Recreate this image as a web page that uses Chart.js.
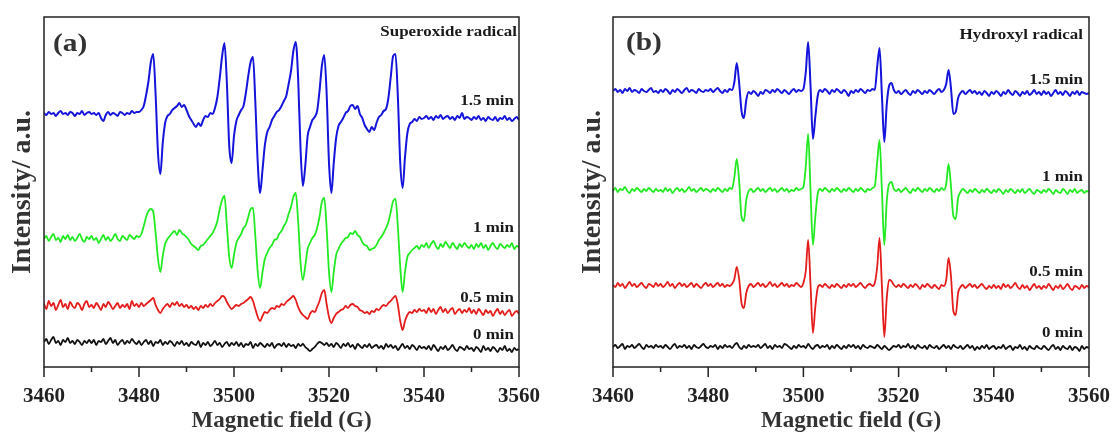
<!DOCTYPE html>
<html>
<head>
<meta charset="utf-8">
<script src="https://cdn.jsdelivr.net/npm/chart.js@4.4.1/dist/chart.umd.min.js"></script>
<style>
body { margin: 0; background: #fff; }
#wrap { position: relative; width: 1115px; height: 435px; background: #fff; }
canvas { position: absolute; top: 0; }
</style>
</head>
<body>
<div id="wrap">
<canvas id="chartA" width="557" height="435" style="left:0"></canvas>
<canvas id="chartB" width="558" height="435" style="left:557px"></canvas>
</div>
<script>
// field sweep (G): one reading every 0.5 G from 3460 to 3560
const fieldStart = 3460;
const fieldStep = 0.5;
const fieldTicks = [3460, 3480, 3500, 3520, 3540, 3560];
const times = ['0 min', '0.5 min', '1 min', '1.5 min'];

// (a) superoxide radical, arbitrary units (stacked offsets kept as read)
const aBlue = [
  254,252,255,253,254,251,254,256,253,254,252,255,254,251,254,253,256,252,254,255,
  253,254,252,254,249,246,252,255,252,254,253,251,255,254,252,254,253,256,254,255,
  255,257,261,272,286,305,313,272,214,193,224,244,251,253,257,259,261,264,260,262,
  257,251,247,243,240,244,241,247,251,250,254,253,259,270,289,311,324,284,221,204,
  231,246,252,257,261,274,291,305,310,264,204,174,197,222,235,240,247,251,255,257,
  261,266,271,283,296,316,325,289,219,181,201,231,240,247,250,256,276,301,312,274,
  204,174,204,229,241,245,249,254,256,261,262,258,261,253,249,242,238,235,240,237,
  244,250,252,256,258,269,290,311,313,270,204,179,210,234,243,245,248,246,250,248,
  249,251,248,250,247,251,249,252,248,250,251,248,250,247,251,249,254,248,250,249,
  247,250,248,251,247,249,246,250,248,247,250,246,249,248,251,247,249,246,248,250,
  247
];
const aGreen = [
  128,131,126,130,133,127,129,125,131,128,132,127,130,126,129,133,128,125,130,128,
  131,127,129,124,128,132,127,130,126,129,133,128,126,131,129,127,132,130,128,131,
  130,133,141,150,156,158,155,134,108,95,111,123,128,131,134,136,132,137,134,132,
  130,127,123,121,119,117,121,122,125,128,131,134,139,146,158,167,171,141,110,99,
  112,124,129,133,139,142,150,158,159,130,95,79,95,108,114,119,122,127,128,133,
  136,141,145,153,160,170,174,146,105,87,101,118,124,129,132,139,150,165,169,139,
  95,75,95,112,118,123,126,129,130,134,133,136,132,130,125,122,121,117,118,119,
  122,127,130,134,139,145,155,166,168,140,100,75,95,110,114,117,119,121,118,122,
  120,124,119,123,126,121,118,123,120,125,122,119,124,121,118,123,120,124,121,119,
  122,118,123,120,124,119,122,117,121,124,120,118,123,121,119,122,120,124,118,121,
  120
];
const aRed = [
  63,58,66,61,64,57,62,67,60,63,58,65,61,59,64,62,57,63,66,60,
  62,59,64,61,57,63,60,65,62,58,61,64,59,62,60,63,58,66,61,63,
  60,64,61,63,65,67,69,62,57,54,58,61,63,60,64,62,65,61,63,60,
  62,59,61,58,60,57,61,59,62,60,63,61,64,66,68,71,70,65,61,58,
  60,62,61,63,64,66,68,70,66,58,50,46,51,55,54,57,59,58,61,60,
  63,62,65,67,69,71,67,60,55,52,50,48,53,56,55,60,66,74,77,63,
  50,44,49,53,55,57,58,61,59,62,63,61,60,57,56,54,55,53,56,55,
  58,57,60,62,61,64,66,69,71,62,46,37,46,52,55,54,57,55,58,56,
  57,54,59,55,58,53,57,60,55,58,54,57,59,53,56,58,54,57,55,59,
  54,57,53,58,55,52,57,54,56,51,55,58,53,56,52,55,57,51,54,56,
  53
];
const aBlack = [
  25,28,23,27,30,24,26,22,27,25,29,24,26,23,27,25,22,26,24,27,
  24,27,22,26,25,28,23,26,29,24,27,22,25,27,23,26,24,28,25,23,
  26,22,25,27,23,26,21,25,24,27,22,25,23,26,24,21,25,23,26,22,
  24,21,25,23,22,26,20,24,22,25,21,23,26,22,24,20,23,25,21,24,
  22,25,21,24,20,23,22,25,19,23,21,24,22,20,23,21,24,19,22,23,
  21,24,20,23,21,22,19,23,21,23,20,18,16,18,20,23,25,24,22,24,
  21,23,20,24,22,19,23,21,24,20,22,18,23,21,19,22,20,23,19,21,
  22,19,21,18,23,20,22,19,21,17,20,23,19,21,18,22,20,17,21,19,
  20,18,21,17,22,19,16,20,18,21,17,19,22,18,16,20,19,17,21,18,
  19,16,20,18,15,21,17,19,16,20,18,15,19,17,21,16,18,15,19,17,
  18
];

// (b) hydroxyl radical
const bBlue = [
  276,278,275,277,274,278,276,279,275,277,276,274,278,276,275,277,279,275,276,274,
  277,275,278,276,273,277,275,278,276,274,277,279,275,277,276,274,278,276,275,277,
  276,278,275,277,279,276,274,277,275,278,277,285,304,284,256,249,267,275,273,276,
  274,271,275,273,277,276,274,277,275,278,276,274,277,275,273,276,278,275,277,276,
  278,295,325,281,228,250,271,277,275,278,276,273,277,275,278,276,274,277,275,271,
  276,274,277,275,278,276,274,277,276,278,277,300,319,271,225,262,281,284,277,274,
  276,273,275,277,274,272,276,274,277,275,273,276,274,277,275,273,276,278,275,277,
  283,297,279,253,255,269,274,276,273,275,277,274,276,273,275,272,276,274,271,275,
  273,276,274,271,275,273,277,274,272,276,274,271,275,273,276,272,274,277,273,275,
  272,276,273,275,271,274,277,273,275,272,276,274,271,275,273,276,272,275,274,273,
  274
];
const bGreen = [
  176,179,175,178,177,180,176,174,178,176,179,177,175,178,176,179,177,175,178,176,
  177,175,179,176,178,174,177,179,176,178,175,177,180,176,178,175,177,179,176,178,
  177,175,178,176,179,177,175,178,176,179,178,190,208,186,150,146,167,176,178,175,
  177,179,176,178,175,177,179,176,178,175,177,179,176,178,175,177,176,179,177,178,
  180,201,233,176,122,150,173,178,176,179,177,175,178,176,179,177,175,178,176,179,
  177,175,178,176,179,177,175,178,177,179,181,205,227,176,122,165,183,185,178,176,
  178,175,177,179,176,174,178,176,179,177,175,178,176,179,177,175,178,176,179,177,
  183,203,181,151,148,169,175,178,176,174,177,175,178,176,174,177,175,178,176,174,
  177,175,178,176,173,177,175,178,176,174,177,175,178,174,176,178,175,173,177,176,
  174,177,175,178,176,173,177,175,174,178,176,173,177,175,178,174,176,177,174,176,
  175
];
const bRed = [
  82,80,84,81,83,79,82,85,81,83,80,82,84,81,79,83,82,80,84,81,
  83,80,82,85,81,83,79,82,84,81,83,80,82,84,80,83,81,79,82,84,
  81,83,80,82,84,81,83,80,82,81,83,88,100,88,64,59,74,81,83,80,
  82,84,81,83,80,82,85,81,83,80,82,84,81,83,80,82,81,84,82,80,
  84,96,127,82,34,60,79,82,80,83,81,79,82,80,83,81,79,82,80,83,
  81,83,80,82,84,81,79,82,83,81,84,100,129,80,30,68,87,86,82,80,
  82,80,83,81,79,82,80,83,81,78,82,80,83,81,79,82,80,78,82,81,
  87,109,91,56,52,74,80,82,79,81,83,80,82,79,81,83,80,78,81,79,
  82,79,81,78,83,80,82,79,81,84,80,78,82,79,81,77,80,83,79,81,
  78,81,79,83,80,77,81,79,82,78,80,83,79,77,81,80,78,82,79,81,
  80
];
const bBlack = [
  20,22,19,21,23,18,21,20,22,19,21,23,20,18,22,20,21,19,22,20,
  21,19,22,20,18,21,23,19,21,20,22,19,21,18,22,20,19,21,23,20,
  19,21,20,22,18,21,19,22,20,21,19,22,24,20,18,21,19,22,20,21,
  20,22,19,21,23,19,21,18,22,20,21,19,23,22,20,18,21,19,22,20,
  21,19,23,20,18,21,22,19,21,20,22,18,21,19,22,20,18,21,19,22,
  20,22,19,21,18,22,20,19,21,20,19,22,20,18,21,19,17,19,21,20,
  22,19,21,20,23,19,21,18,22,20,19,21,18,22,20,19,21,18,20,22,
  19,21,18,22,20,19,21,18,20,22,19,21,17,20,18,21,19,22,18,20,
  21,18,20,19,22,18,20,21,17,20,19,22,18,20,17,21,19,18,21,19,
  18,21,19,17,20,22,18,20,17,21,19,18,21,17,20,19,16,21,18,20,
  19
];

const colors = ['#111111', '#e51c1c', '#22ea22', '#1414dc'];
const serif = '"Liberation Serif", "Times New Roman", serif';

Chart.defaults.font.family = serif;

function toPoints(values) {
  return values.map((v, i) => ({ x: fieldStart + i * fieldStep, y: v }));
}

// box round the plot + outward tick marks on the field axis
const frame = {
  id: 'frame',
  afterDatasetsDraw(chart) {
    const { ctx, chartArea: a, scales: { x } } = chart;
    ctx.save();
    ctx.strokeStyle = '#222';
    ctx.lineWidth = 1.5;
    ctx.strokeRect(a.left, a.top, a.right - a.left, a.bottom - a.top);
    x.ticks.forEach(t => {
      const px = x.getPixelForValue(t.value);
      const len = fieldTicks.includes(t.value) ? 10 : 5;
      ctx.beginPath();
      ctx.moveTo(px, a.bottom);
      ctx.lineTo(px, a.bottom + len);
      ctx.stroke();
    });
    ctx.restore();
  }
};

// panel letter, radical name and time labels
const panelText = {
  id: 'panelText',
  afterDraw(chart, args, opts) {
    const ctx = chart.ctx;
    opts.items.forEach(it => {
      ctx.save();
      ctx.font = 'bold ' + it.size + 'px ' + serif;
      ctx.fillStyle = it.color || '#1a1a1a';
      ctx.textAlign = it.align;
      ctx.textBaseline = 'middle';
      ctx.translate(it.x, it.y);
      ctx.scale(1.13, 1);
      ctx.fillText(it.text, 0, 0);
      ctx.restore();
    });
  }
};

function panel(id, series, leftW, rightPad, yTitlePad, items) {
  new Chart(document.getElementById(id), {
    type: 'line',
    data: {
      datasets: series.map((s, i) => ({
        label: times[i],
        data: toPoints(s),
        borderColor: colors[i],
        borderWidth: i === 3 ? 2 : 1.8,
        pointRadius: 0,
        cubicInterpolationMode: 'monotone',
        fill: false
      }))
    },
    options: {
      responsive: false,
      animation: false,
      devicePixelRatio: 1,
      layout: { padding: { top: 17, right: rightPad, left: 0, bottom: 0 } },
      plugins: {
        legend: { display: false },
        tooltip: { enabled: false },
        panelText: { items: items }
      },
      scales: {
        x: {
          type: 'linear',
          min: 3460,
          max: 3560,
          afterFit: s => { s.height = 68; },
          grid: { display: false, drawTicks: true, tickLength: 17 },
          border: { display: false },
          ticks: {
            stepSize: 10,
            autoSkip: false,
            maxRotation: 0,
            padding: 0,
            color: '#222',
            font: { size: 21, weight: 'bold' },
            callback: v => fieldTicks.includes(v) ? String(v) : ''
          },
          title: {
            display: true,
            text: 'Magnetic field (G)',
            color: '#333',
            font: { size: 23, weight: 'bold' },
            padding: { top: 0, bottom: 0 }
          }
        },
        y: {
          min: 0,
          max: 350,
          afterFit: s => { s.width = leftW; },
          grid: { display: false, drawTicks: false },
          border: { display: false },
          ticks: { display: false },
          title: {
            display: true,
            text: 'Intensity/ a.u.',
            color: '#333',
            font: { size: 28, weight: 'bold' },
            padding: { top: yTitlePad, bottom: yTitlePad }
          }
        }
      }
    },
    plugins: [frame, panelText]
  });
}

panel('chartA', [aBlack, aRed, aGreen, aBlue], 44, 38, 6, [
  { text: '(a)', x: 53, y: 44, size: 26, align: 'left', color: '#333' },
  { text: 'Superoxide radical', x: 517, y: 32, size: 15, align: 'right' },
  { text: '1.5 min', x: 514, y: 101, size: 15, align: 'right' },
  { text: '1 min', x: 514, y: 228, size: 15, align: 'right' },
  { text: '0.5 min', x: 514, y: 298, size: 15, align: 'right' },
  { text: '0 min', x: 514, y: 335, size: 15, align: 'right' }
]);

panel('chartB', [bBlack, bRed, bGreen, bBlue], 56, 26, 19, [
  { text: '(b)', x: 69, y: 43, size: 26, align: 'left', color: '#333' },
  { text: 'Hydroxyl radical', x: 526, y: 35, size: 15, align: 'right' },
  { text: '1.5 min', x: 526, y: 80, size: 15, align: 'right' },
  { text: '1 min', x: 526, y: 177, size: 15, align: 'right' },
  { text: '0.5 min', x: 526, y: 272, size: 15, align: 'right' },
  { text: '0 min', x: 526, y: 333, size: 15, align: 'right' }
]);
</script>
</body>
</html>
